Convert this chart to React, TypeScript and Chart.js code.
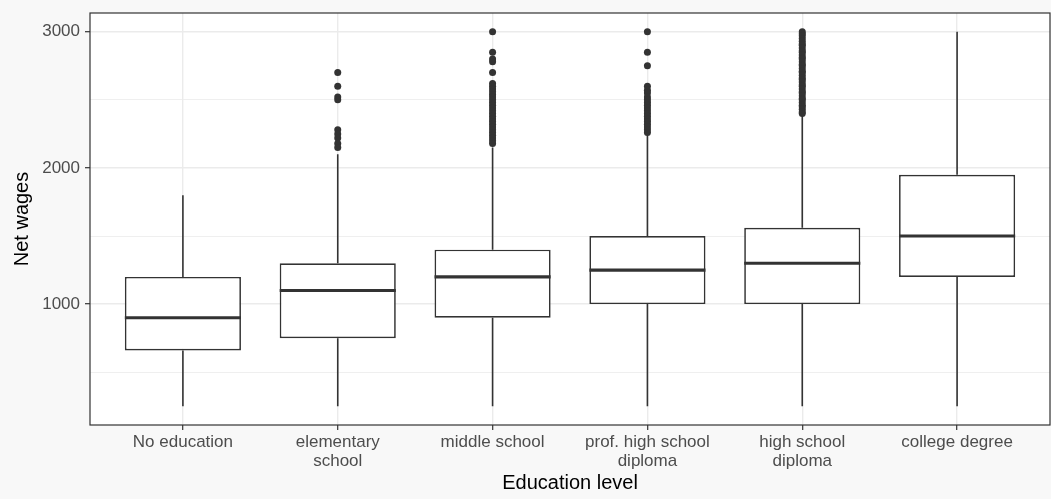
import React, { useEffect, useRef } from 'react';
import { Chart, registerables } from 'chart.js';

Chart.register(...registerables);

const categories: (string | string[])[] = [
  'No education',
  ['elementary', 'school'],
  'middle school',
  ['prof. high school', 'diploma'],
  ['high school', 'diploma'],
  'college degree',
];
const whiskerLow = [250, 250, 250, 250, 250, 250];
const q1 = [660, 750, 900, 1000, 1000, 1200];
const medians = [900, 1100, 1200, 1250, 1300, 1500];
const q3 = [1200, 1300, 1400, 1500, 1560, 1950];
const whiskerHigh = [1800, 2100, 2150, 2250, 2390, 3000];

const outliersNoEducation: number[] = [];
const outliersElementary = [2700, 2600, 2520, 2500, 2280, 2250, 2220, 2180, 2150];
const outliersMiddle = [
  3000, 2850, 2800, 2780, 2700, 2620, 2600, 2580, 2560, 2540, 2520, 2500, 2480, 2460,
  2440, 2420, 2400, 2380, 2360, 2340, 2320, 2300, 2280, 2260, 2240, 2220, 2200, 2180,
];
const outliersProf = [
  3000, 2850, 2750, 2600, 2570, 2550, 2520, 2500, 2480, 2460, 2440, 2420, 2400, 2380,
  2360, 2340, 2320, 2300, 2280, 2260,
];
const outliersHighSchool = [
  3000, 2985, 2970, 2950, 2930, 2910, 2900, 2880, 2860, 2850, 2830, 2810, 2800, 2780,
  2760, 2750, 2730, 2710, 2700, 2680, 2660, 2650, 2630, 2610, 2600, 2580, 2560, 2550,
  2530, 2510, 2500, 2480, 2460, 2450, 2430, 2410, 2400,
];
const outliersCollege: number[] = [];
const outliers = [
  outliersNoEducation,
  outliersElementary,
  outliersMiddle,
  outliersProf,
  outliersHighSchool,
  outliersCollege,
];

const yTicks = [500, 1000, 1500, 2000, 2500, 3000];
const yMin = 112.5;
const yMax = 3137.5;
const xMin = -0.6;
const xMax = 5.6;

const FONT = '"Liberation Sans", Arial, Helvetica, sans-serif';
const DARK = '#333333';
const GRID = '#ebebeb';

const boxPlugin = {
  id: 'boxParts',
  beforeDraw(chart: any) {
    const { ctx, chartArea: a } = chart;
    ctx.save();
    ctx.fillStyle = '#ffffff';
    ctx.fillRect(a.left, a.top, a.right - a.left, a.bottom - a.top);
    ctx.restore();
  },
  beforeDatasetsDraw(chart: any) {
    const { ctx } = chart;
    const xs = chart.scales.x;
    const ys = chart.scales.y;
    ctx.save();
    ctx.strokeStyle = DARK;
    ctx.lineWidth = 1.6;
    for (let i = 0; i < categories.length; i++) {
      const x = xs.getPixelForValue(i);
      ctx.beginPath();
      ctx.moveTo(x, ys.getPixelForValue(q3[i]));
      ctx.lineTo(x, ys.getPixelForValue(whiskerHigh[i]));
      ctx.moveTo(x, ys.getPixelForValue(q1[i]));
      ctx.lineTo(x, ys.getPixelForValue(whiskerLow[i]));
      ctx.stroke();
    }
    ctx.restore();
  },
  afterDatasetsDraw(chart: any) {
    const { ctx } = chart;
    const ys = chart.scales.y;
    const meta = chart.getDatasetMeta(0);
    ctx.save();
    ctx.strokeStyle = DARK;
    ctx.lineWidth = 3.2;
    meta.data.forEach((bar: any, i: number) => {
      const { x, width } = bar.getProps(['x', 'width'], true);
      const y = ys.getPixelForValue(medians[i]);
      ctx.beginPath();
      ctx.moveTo(x - width / 2, y);
      ctx.lineTo(x + width / 2, y);
      ctx.stroke();
    });
    ctx.restore();
  },
  afterDraw(chart: any) {
    const { ctx, chartArea: a } = chart;
    ctx.save();
    ctx.strokeStyle = DARK;
    ctx.lineWidth = 1.2;
    ctx.strokeRect(a.left, a.top, a.right - a.left, a.bottom - a.top);
    ctx.restore();
  },
};

export default function App() {
  const ref = useRef<HTMLCanvasElement | null>(null);

  useEffect(() => {
    if (!ref.current) return;
    const isMajor = (ctx: any) => ctx.tick && ctx.tick.value % 1000 === 0;
    const chart = new Chart(ref.current, {
      type: 'bar',
      data: {
        datasets: [
          {
            type: 'bar',
            data: q1.map((v, i) => ({ x: i, y: [v, q3[i]] })) as any,
            backgroundColor: '#ffffff',
            borderColor: DARK,
            borderWidth: 1.7,
            borderSkipped: false,
            barPercentage: 0.75,
            categoryPercentage: 1,
            order: 2,
          } as any,
          {
            type: 'scatter',
            data: outliers.flatMap((arr, i) => arr.map((v) => ({ x: i, y: v }))),
            backgroundColor: DARK,
            borderWidth: 0,
            pointRadius: 3.5,
            pointHoverRadius: 3.5,
            order: 1,
          } as any,
        ],
      },
      options: {
        animation: false,
        responsive: false,
        maintainAspectRatio: false,
        events: [],
        layout: { autoPadding: false, padding: { top: 13, right: 1, left: 0, bottom: 0 } },
        plugins: {
          legend: { display: false },
          tooltip: { enabled: false },
        },
        scales: {
          x: {
            type: 'linear',
            min: xMin,
            max: xMax,
            offset: false,
            afterBuildTicks: (scale: any) => {
              scale.ticks = categories.map((_, i) => ({ value: i }));
            },
            afterFit: (scale: any) => {
              scale.height = 74;
              scale.paddingLeft = 0;
              scale.paddingRight = 0;
            },
            grid: {
              offset: false,
              color: GRID,
              lineWidth: 1.4,
              drawTicks: true,
              tickLength: 5,
              tickColor: DARK,
              tickWidth: 1.2,
            },
            border: { display: false },
            ticks: {
              autoSkip: false,
              maxRotation: 0,
              minRotation: 0,
              padding: 3,
              color: '#4d4d4d',
              font: { family: FONT, size: 17, lineHeight: 1.1 },
              callback: (value: any) => categories[Math.round(Number(value))] as any,
            },
            title: {
              display: true,
              text: 'Education level',
              color: '#000000',
              font: { family: FONT, size: 20, lineHeight: 1.2 },
              padding: { top: 0, bottom: 4 },
            },
          } as any,
          y: {
            type: 'linear',
            min: yMin,
            max: yMax,
            beginAtZero: false,
            afterBuildTicks: (scale: any) => {
              scale.ticks = yTicks.map((v) => ({ value: v }));
            },
            afterFit: (scale: any) => {
              scale.width = 90;
              scale.paddingTop = 0;
              scale.paddingBottom = 0;
            },
            grid: {
              color: GRID,
              lineWidth: (ctx: any) => (isMajor(ctx) ? 1.4 : 0.8),
              drawTicks: true,
              tickLength: 5,
              tickColor: (ctx: any) => (isMajor(ctx) ? DARK : 'rgba(0,0,0,0)'),
              tickWidth: 1.2,
            },
            border: { display: false },
            ticks: {
              padding: 5,
              color: '#4d4d4d',
              font: { family: FONT, size: 17 },
              callback: (value: any) => (Number(value) % 1000 === 0 ? String(value) : ''),
            },
            title: {
              display: true,
              text: 'Net wages',
              color: '#000000',
              font: { family: FONT, size: 20, lineHeight: 1.2 },
              padding: { top: 10, bottom: 0 },
            },
          } as any,
        },
      },
      plugins: [boxPlugin],
    });
    return () => chart.destroy();
  }, []);

  return (
    <div
      style={{
        position: 'absolute',
        left: 0,
        top: 0,
        width: 1051,
        height: 499,
        background: '#f8f8f8',
      }}
    >
      <canvas ref={ref} width={1051} height={499} style={{ display: 'block' }} />
    </div>
  );
}
